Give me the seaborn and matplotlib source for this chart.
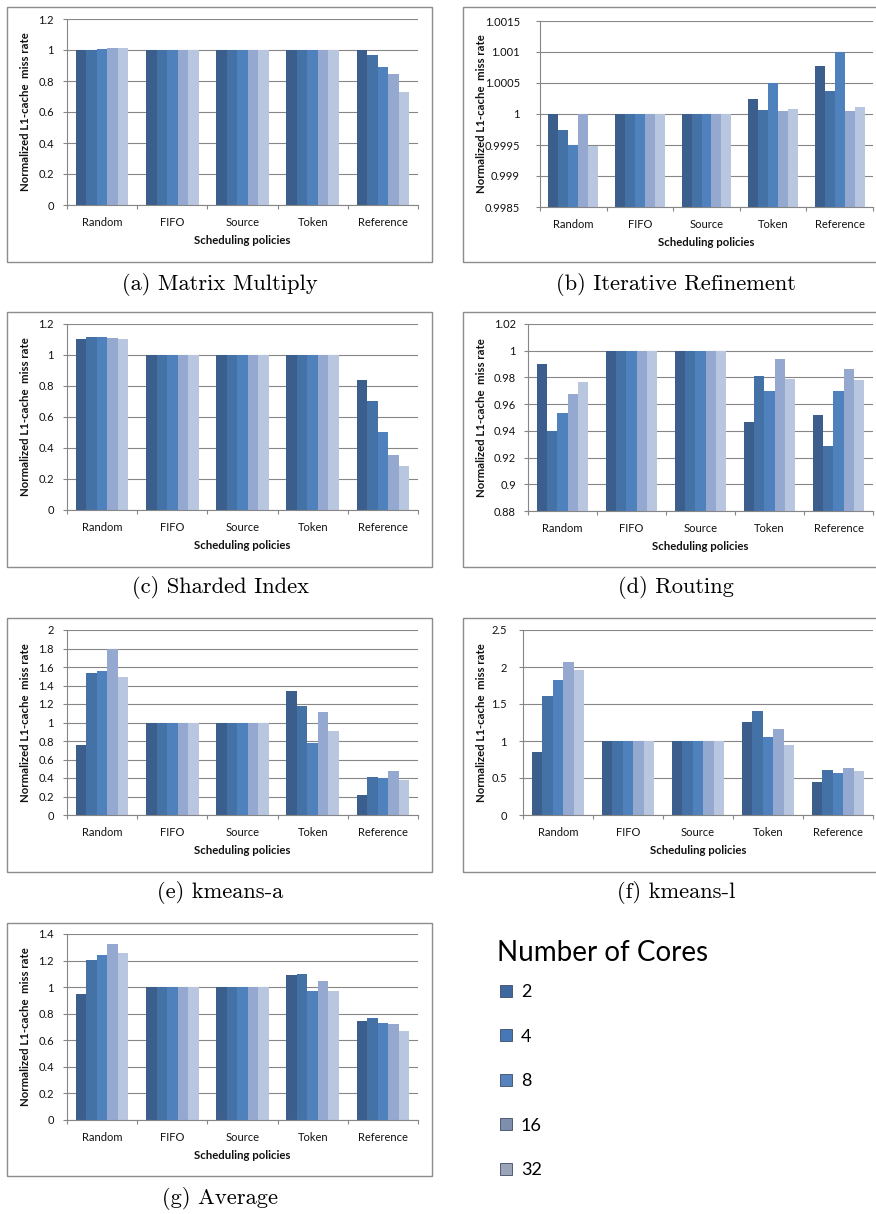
import numpy as np
import pandas as pd
import matplotlib
matplotlib.use("Agg")
import matplotlib.pyplot as plt
from matplotlib.patches import Rectangle, Patch
from matplotlib.ticker import FuncFormatter, FixedLocator
import seaborn as sns

# ---------------------------------------------------------------------------
# Data: normalized L1-cache miss rate, rows = scheduling policy,
# columns = number of cores (2, 4, 8, 16, 32)
# ---------------------------------------------------------------------------
policies = ["Random", "FIFO", "Source", "Token", "Reference"]
cores = ["2", "4", "8", "16", "32"]

matrix_multiply = [
    [1.0, 1.0, 1.007, 1.013, 1.013],
    [1.0, 1.0, 1.0, 1.0, 1.0],
    [1.0, 1.0, 1.0, 1.0, 1.0],
    [1.0, 1.0, 1.0, 1.0, 1.0],
    [1.0, 0.966, 0.893, 0.847, 0.728],
]
iterative_refinement = [
    [1.0, 0.99975, 0.9995, 1.0, 0.99948],
    [1.0, 1.0, 1.0, 1.0, 1.0],
    [1.0, 1.0, 1.0, 1.0, 1.0],
    [1.000246, 1.000062, 1.0005, 1.000048, 1.00008],
    [1.000774, 1.000366, 1.001, 1.000048, 1.000118],
]
sharded_index = [
    [1.105, 1.116, 1.116, 1.112, 1.101],
    [1.0, 1.0, 1.0, 1.0, 1.0],
    [1.0, 1.0, 1.0, 1.0, 1.0],
    [1.0, 1.0, 1.0, 1.0, 1.0],
    [0.84, 0.705, 0.506, 0.356, 0.287],
]
routing = [
    [0.990, 0.940, 0.9537, 0.9677, 0.9764],
    [1.0, 1.0, 1.0, 1.0, 1.0],
    [1.0, 1.0, 1.0, 1.0, 1.0],
    [0.9463, 0.981, 0.9695, 0.9937, 0.979],
    [0.9517, 0.929, 0.9695, 0.9863, 0.978],
]
kmeans_a = [
    [0.757, 1.535, 1.557, 1.80, 1.492],
    [1.0, 1.0, 1.0, 1.0, 1.0],
    [1.0, 1.0, 1.0, 1.0, 1.0],
    [1.337, 1.178, 0.782, 1.117, 0.908],
    [0.213, 0.411, 0.40, 0.479, 0.382],
]
kmeans_l = [
    [0.85, 1.614, 1.826, 2.064, 1.956],
    [1.0, 1.0, 1.0, 1.0, 1.0],
    [1.0, 1.0, 1.0, 1.0, 1.0],
    [1.263, 1.407, 1.052, 1.16, 0.944],
    [0.445, 0.611, 0.571, 0.634, 0.589],
]
average = [
    [0.951, 1.202, 1.244, 1.322, 1.259],
    [1.0, 1.0, 1.0, 1.0, 1.0],
    [1.0, 1.0, 1.0, 1.0, 1.0],
    [1.091, 1.099, 0.971, 1.044, 0.971],
    [0.745, 0.770, 0.733, 0.72, 0.667],
]

palette = ["#3B5E8C", "#4472A6", "#4F81BD", "#94A8D0", "#B9C6E0"]
legend_colors = ["#3F67A0", "#4678B8", "#5683BE", "#7F8FAB", "#9CA5B8"]
axis_grey = "#868686"
text_col = "#111111"

sns.set_theme(style="white")
plt.rcParams["font.family"] = ["Lato", "DejaVu Sans"]

W, H = 876, 1214
fig = plt.figure(figsize=(W / 100, H / 100), dpi=100)


def fx(px):
    return px / W


def fy(py):
    return 1 - py / H


def px2pt(p):
    return p * 72 / 100


panels = [
    dict(values=matrix_multiply, caption="(a) Matrix Multiply",
         box=(67, 19, 418, 205), frame=(7, 7, 432, 262),
         ylim=(0, 1.2), nticks=7, cap=(220, 285), ylab_x=31, pad=9),
    dict(values=iterative_refinement, caption="(b) Iterative Refinement",
         box=(540, 21, 873, 207), frame=(463, 7, 880, 262),
         ylim=(0.9985, 1.0015), nticks=7, cap=(676, 285), ylab_x=487, pad=16),
    dict(values=sharded_index, caption="(c) Sharded Index",
         box=(67, 324, 418, 510), frame=(7, 312, 432, 567),
         ylim=(0, 1.2), nticks=7, cap=(220, 588), ylab_x=31, pad=9),
    dict(values=routing, caption="(d) Routing",
         box=(528, 324, 873, 511), frame=(463, 312, 880, 567),
         ylim=(0.88, 1.02), nticks=8, cap=(676, 588), ylab_x=487, pad=8),
    dict(values=kmeans_a, caption="(e) kmeans-a",
         box=(67, 630, 418, 815), frame=(7, 618, 432, 872),
         ylim=(0, 2.0), nticks=11, cap=(220, 893), ylab_x=31, pad=9),
    dict(values=kmeans_l, caption="(f) kmeans-l",
         box=(523, 630, 873, 815), frame=(463, 618, 880, 872),
         ylim=(0, 2.5), nticks=6, cap=(676, 893), ylab_x=487, pad=12),
    dict(values=average, caption="(g) Average",
         box=(67, 934, 418, 1120), frame=(7, 923, 432, 1176),
         ylim=(0, 1.4), nticks=8, cap=(220, 1198), ylab_x=31, pad=9),
]

tick_fmt = FuncFormatter(lambda v, _: f"{round(v, 6):g}")

for p in panels:
    l, t, r, b = p["box"]
    ax = fig.add_axes([fx(l), fy(b), (r - l) / W, (b - t) / H])

    rows = []
    for pol, vals in zip(policies, p["values"]):
        for c, v in zip(cores, vals):
            rows.append({"policy": pol, "cores": c, "value": v})
    df = pd.DataFrame(rows)

    sns.barplot(data=df, x="policy", y="value", hue="cores",
                order=policies, hue_order=cores, palette=palette,
                width=0.75, saturation=1, errorbar=None, legend=False,
                linewidth=0, ax=ax)

    lo, hi = p["ylim"]
    ax.set_ylim(lo, hi)
    ax.set_xlim(-0.5, len(policies) - 0.5)
    ax.yaxis.set_major_locator(FixedLocator(np.linspace(lo, hi, p["nticks"])))
    ax.yaxis.set_major_formatter(tick_fmt)
    ax.set_axisbelow(True)
    ax.yaxis.grid(True, color=axis_grey, linewidth=0.8)
    ax.xaxis.grid(False)

    for side in ("top", "right"):
        ax.spines[side].set_visible(False)
    for side in ("left", "bottom"):
        ax.spines[side].set_color(axis_grey)
        ax.spines[side].set_linewidth(0.8)

    ax.set_xticks(np.arange(len(policies)))
    ax.set_xticks(np.arange(-0.5, len(policies)), minor=True)
    ax.tick_params(axis="x", which="major", length=0, pad=px2pt(12),
                   labelsize=8, labelcolor=text_col)
    ax.tick_params(axis="x", which="minor", length=px2pt(4), width=0.8,
                   color=axis_grey, direction="out", bottom=True)
    ax.tick_params(axis="y", which="major", length=px2pt(4), width=0.8,
                   color=axis_grey, direction="out", left=True,
                   pad=px2pt(p["pad"]), labelsize=8, labelcolor=text_col)

    ax.set_xlabel("Scheduling policies", fontsize=8.2, fontweight="bold",
                  color=text_col)
    ax.xaxis.set_label_coords(0.5, -30 / (b - t))
    ax.set_ylabel("Normalized L1-cache  miss rate", fontsize=8.2,
                  fontweight="bold", color=text_col)
    ax.yaxis.set_label_coords((p["ylab_x"] - l) / (r - l), 0.5)

    x0, y0, x1, y1 = p["frame"]
    fig.add_artist(Rectangle((fx(x0), fy(y1)), (x1 - x0) / W, (y1 - y0) / H,
                             transform=fig.transFigure, fill=False,
                             edgecolor="#8c8c8c", linewidth=1.0))

    cx, cy = p["cap"]
    fig.text(fx(cx), fy(cy), p["caption"], ha="center", va="center",
             family="cmr10", fontsize=16.2, color="black")

# Legend for the number of cores
fig.text(fx(497), fy(953), "Number of Cores", ha="left", va="center",
         fontsize=20, color="black")
handles = [Patch(facecolor=c, edgecolor="#3a4c66", linewidth=0.6)
           for c in legend_colors]
leg = fig.legend(handles=handles, labels=cores,
                 loc="upper left", bbox_to_anchor=(fx(500), fy(984)),
                 frameon=False, fontsize=13,
                 labelspacing=1.58, handlelength=0.65, handleheight=0.65,
                 handletextpad=0.5, borderpad=0.0, borderaxespad=0.0)
for txt in leg.get_texts():
    txt.set_color("black")

fig.savefig("out.png", dpi=100, facecolor="white")
